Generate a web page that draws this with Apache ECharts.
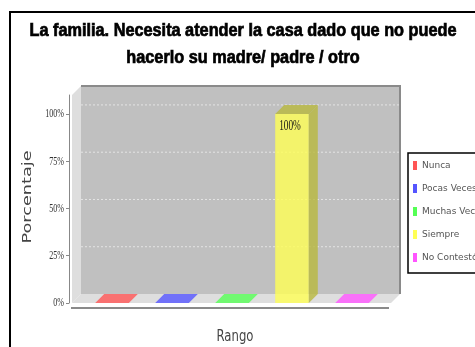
<!DOCTYPE html>
<html>
<head>
<meta charset="utf-8">
<script src="https://cdn.jsdelivr.net/npm/echarts@6/dist/echarts.min.js"></script>
<style>
  html, body { margin: 0; padding: 0; background: #fff; }
  #chart { width: 475px; height: 347px; }
</style>
</head>
<body>
<div id="chart"></div>
<script>
// Response categories, share of answers (%) and the palette for each range
const categories = ['Nunca', 'Pocas Veces', 'Muchas Veces', 'Siempre', 'No Contestó'];
const percentages = [0, 0, 0, 100, 0];
const rangeColors = ['#ff5555', '#5555ff', '#55ff55', '#ffff55', '#ff55ff'];
const yTickValues = [0, 25, 50, 75, 100];
const titleLines = ['La familia. Necesita atender la casa dado que no puede', 'hacerlo su madre/ padre / otro'];

// Depth of the pseudo-3D box and bars (pixels)
const DX = 9, DY = 9;
const WALL_PAD_LEFT = 10, WALL_PAD_RIGHT = 9;
const AXIS_OFFSET = 13;

// Narrow, tall lettering: text is drawn in a regular face and squeezed to a width
const measureCtx = document.createElement('canvas').getContext('2d');
function textWidth(text, font) {
  measureCtx.font = font;
  return measureCtx.measureText(text).width;
}
const TITLE_FONT = 'bold 18px "Liberation Sans", sans-serif';
const titleScale = 427 / textWidth(titleLines[0], TITLE_FONT);
const TICK_FONT = '13px "Liberation Serif", serif';
const TICK_SCALE = 0.62;
const YNAME_FONT = '12px "DejaVu Sans", sans-serif';
const ynameScale = 93 / textWidth('Porcentaje', YNAME_FONT);
const XNAME_FONT = '15px "DejaVu Sans", sans-serif';
const xnameScale = 37 / textWidth('Rango', XNAME_FONT);

// Shaded face colour: the base colour darkened, then made translucent
function shadeOf(color, factor, alpha) {
  const c = echarts.color.parse(color);
  return 'rgba(' + Math.round(c[0] * factor) + ',' + Math.round(c[1] * factor) + ',' +
    Math.round(c[2] * factor) + ',' + alpha + ')';
}

const chart = echarts.init(document.getElementById('chart'), null, { renderer: 'canvas' });

// Walls, floor, back-wall grid lines and value tick labels of the 3D plot box
function renderFrame(params, api) {
  const cs = params.coordSys;
  const fl = cs.x - WALL_PAD_LEFT;
  const fr = cs.x + cs.width + WALL_PAD_RIGHT;
  const top = cs.y;
  const bottom = cs.y + cs.height;
  const axisX = cs.x - AXIS_OFFSET;
  const children = [
    { type: 'rect', shape: { x: fl + DX, y: top - DY, width: fr - fl, height: bottom - top },
      style: { fill: '#c0c0c0' } },
    { type: 'polygon', shape: { points: [[fl, top], [fl + DX, top - DY], [fl + DX, bottom - DY], [fl, bottom]] },
      style: { fill: '#dedede' } },
    { type: 'polygon', shape: { points: [[fl, bottom], [fl + DX, bottom - DY], [fr + DX, bottom - DY], [fr, bottom]] },
      style: { fill: '#dedede' } },
    { type: 'polyline', shape: { points: [[fl + DX, top - DY], [fr + DX, top - DY], [fr + DX, bottom - DY]] },
      style: { stroke: '#8a8a8a', lineWidth: 2, fill: null } },
    { type: 'line', shape: { x1: fl - 1, y1: bottom + 5, x2: fr - 2, y2: bottom + 5 },
      style: { stroke: '#8a8a8a', lineWidth: 2 } }
  ];
  yTickValues.forEach(function (v) {
    const y = api.coord([0, v])[1];
    if (v > 0) {
      children.push({ type: 'line', shape: { x1: fl + DX, y1: y - DY, x2: fr + DX, y2: y - DY },
        style: { stroke: '#e4e4e4', lineWidth: 1, lineDash: [2, 2] } });
    }
    children.push({ type: 'text', x: axisX - 5, y: y, scaleX: TICK_SCALE,
      style: { text: v + '%', font: TICK_FONT, fill: '#333', align: 'right', verticalAlign: 'middle' } });
  });
  return { type: 'group', children: children };
}

// One 3D bar: front face, right side, top and its value label
function renderBar(params, api) {
  const idx = api.value(0);
  const val = api.value(1);
  const base = api.coord([idx, 0]);
  const head = api.coord([idx, val]);
  const w = api.size([1, 0])[0] * 0.56;
  const x0 = base[0] - w / 2, x1 = base[0] + w / 2;
  const yb = base[1], yt = head[1];
  const color = api.visual('color');
  const front = echarts.color.modifyAlpha(color, 0.8);
  const shade = shadeOf(color, 0.72, 0.8);
  const children = [];
  if (val > 0) {
    children.push({ type: 'rect', shape: { x: x0, y: yt, width: w, height: yb - yt }, style: { fill: front } });
    children.push({ type: 'polygon', shape: { points: [[x1, yb], [x1 + DX, yb - DY], [x1 + DX, yt - DY], [x1, yt]] },
      style: { fill: shade } });
  }
  children.push({ type: 'polygon', shape: { points: [[x0, yt], [x1, yt], [x1 + DX, yt - DY], [x0 + DX, yt - DY]] },
    style: { fill: val > 0 ? shade : front } });
  if (val > 0) {
    children.push({ type: 'text', x: base[0] - 2, y: yt + 12, scaleX: 0.62,
      style: { text: val + '%', fill: '#111', font: '15px "Liberation Serif", serif',
        align: 'center', verticalAlign: 'middle' } });
  }
  return { type: 'group', children: children };
}

const series = [{
  type: 'custom', name: '__frame', renderItem: renderFrame, data: [[0, 0]],
  silent: true, z: 0, clip: false
}];
categories.forEach(function (name, i) {
  series.push({
    type: 'custom', name: name, renderItem: renderBar,
    itemStyle: { color: rangeColors[i] },
    data: [[i, percentages[i]]], z: 2, clip: false
  });
});

chart.setOption({
  animation: false,
  legend: {
    data: categories, orient: 'vertical', left: 413, top: 161,
    icon: 'rect', itemWidth: 4, itemHeight: 9, itemGap: 14, padding: 0,
    textStyle: { fontFamily: '"DejaVu Sans", sans-serif', fontSize: 9, color: '#555', lineHeight: 9 }
  },
  graphic: [
    { type: 'rect', z: -1, shape: { x: 10, y: 12, width: 600, height: 500 },
      style: { fill: null, stroke: '#000', lineWidth: 2 } },
    { type: 'rect', z: -1, shape: { x: 408, y: 153, width: 200, height: 120 },
      style: { fill: '#fff', stroke: '#000', lineWidth: 1.5 } },
    { type: 'text', x: 243, y: 44.5, scaleX: titleScale,
      style: { text: titleLines.join('\n'), font: TITLE_FONT, fill: '#000', stroke: '#000', lineWidth: 0.7,
        align: 'center', verticalAlign: 'middle', lineHeight: 27 } },
    { type: 'text', x: 28, y: 197, rotation: Math.PI / 2, scaleX: ynameScale,
      style: { text: 'Porcentaje', font: YNAME_FONT, fill: '#444', align: 'center', verticalAlign: 'middle' } },
    { type: 'text', x: 235, y: 337, scaleX: xnameScale,
      style: { text: 'Rango', font: XNAME_FONT, fill: '#444', align: 'center', verticalAlign: 'middle' } }
  ],
  grid: { left: 82, top: 95, width: 300, height: 208 },
  xAxis: {
    type: 'category', data: categories,
    axisLine: { show: false }, axisTick: { show: false }, axisLabel: { show: false },
    splitLine: { show: false }
  },
  yAxis: {
    type: 'value', min: 0, max: 110, offset: AXIS_OFFSET,
    axisLine: { show: true, lineStyle: { color: '#888', width: 1 } },
    axisTick: { show: true, length: 3, customValues: yTickValues, lineStyle: { color: '#888' } },
    axisLabel: { show: false },
    splitLine: { show: false }
  },
  series: series
});
</script>
</body>
</html>
